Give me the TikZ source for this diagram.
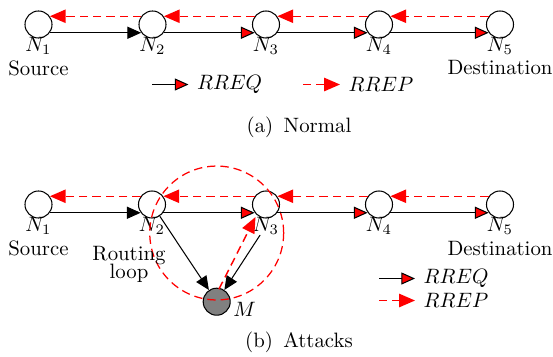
\documentclass[tikz,border=0pt]{standalone}
\usetikzlibrary{arrows.meta}
\begin{document}
\begin{tikzpicture}[x=0.481pt,y=-0.481pt,
  peer/.style={circle,draw,line width=0.5pt,minimum size=13pt,inner sep=0pt},
  mal/.style={peer,fill=gray},
  tag/.style={inner sep=0pt},
  legend/.style={inner sep=4pt},
  rreq/.style={line width=0.5pt,-{Triangle[length=6.6pt,width=5.8pt,fill=red]}},
  rreqk/.style={line width=0.5pt,-{Triangle[length=6.6pt,width=5.8pt]}},
  rrep/.style={draw=red,line width=0.7pt,dash pattern=on 4pt off 2.4pt,
    -{Triangle[length=7.6pt,width=6.4pt,fill=red]}},
  loopring/.style={draw=red,line width=0.6pt,dash pattern=on 4pt off 2.4pt}
]
\useasboundingbox (0,0) rectangle (553,356);

% ---------- (a) normal route discovery ----------
\foreach \i/\x in {1/38.5,2/152.5,3/266,4/379,5/500}{
  \node[peer] (a\i) at (\x,24.5) {};
  \node[tag,anchor=base] (a\i l) at (\x,51.5) {$N_\i$};
}
\node[tag,anchor=base] (asrc) at (38.5,75) {Source};
\node[tag,anchor=base] (adst) at (500,74.5) {Destination};

\draw[rreqk] (a1.-36) -- (a2.216);
\draw[rreq] (a2.-36) -- (a3.216);
\draw[rreq] (a3.-36) -- (a4.216);
\draw[rreq] (a4.-36) -- (a5.216);

\draw[rrep] (a5.144) -- (a4.36);
\draw[rrep] (a4.144) -- (a3.36);
\draw[rrep] (a3.144) -- (a2.36);
\draw[rrep] (a2.144) -- (a1.36);

% legend
\coordinate (aq0) at (152,84.5);
\node[legend,anchor=west] (aq) at (188.5,84.5) {$RREQ$};
\draw[rreq] (aq0) -- (aq.west);
\coordinate (ap0) at (303,84.5);
\node[legend,anchor=west] (ap) at (340,84.5) {$RREP$};
\draw[rrep] (ap0) -- (ap.west);

\node[tag] (capa) at (299,127.5) {(a)\hspace{5pt}Normal};

% ---------- (b) attack with a routing loop ----------
\foreach \i/\x in {1/38.5,2/152,3/266,4/379,5/500}{
  \node[peer] (b\i) at (\x,204.5) {};
  \node[tag,anchor=base] (b\i l) at (\x,231.5) {$N_\i$};
}
\node[tag,anchor=base] (bsrc) at (38.5,255) {Source};
\node[tag,anchor=base] (bdst) at (500,255) {Destination};

\node[mal] (m) at (216.7,301.7) {};
\node[tag,anchor=base west] (ml) at (233,316.5) {$M$};

\draw[loopring] (216.7,233) circle[radius=32.2pt];

\node[tag,align=center] (loop) at (129,264) {Routing\\[-3.4pt]loop};

\draw[rreqk] (b1.-36) -- (b2.216);
\draw[rreq] (b2.-36) -- (b3.216);
\draw[rreq] (b3.-36) -- (b4.216);
\draw[rreq] (b4.-36) -- (b5.216);

\draw[rrep] (b5.144) -- (b4.36);
\draw[rrep] (b4.144) -- (b3.36);
\draw[rrep] (b3.144) -- (b2.36);
\draw[rrep] (b2.144) -- (b1.36);

\draw[rreqk] (b2) -- (m);
\draw[rreqk] (b3l) -- (m);
\draw[rrep] ([xshift=-2pt]m.63) -- ([xshift=-2pt]b3.243);

% legend
\coordinate (bq0) at (379,278.5);
\node[legend,anchor=west] (bq) at (415,278.5) {$RREQ$};
\draw[rreq] (bq0) -- (bq.west);
\coordinate (bp0) at (379,300.5);
\node[legend,anchor=west] (bp) at (415,300.5) {$RREP$};
\draw[rrep] (bp0) -- (bp.west);

\node[tag] (capb) at (299,342) {(b)\hspace{5pt}Attacks};
\end{tikzpicture}
\end{document}
